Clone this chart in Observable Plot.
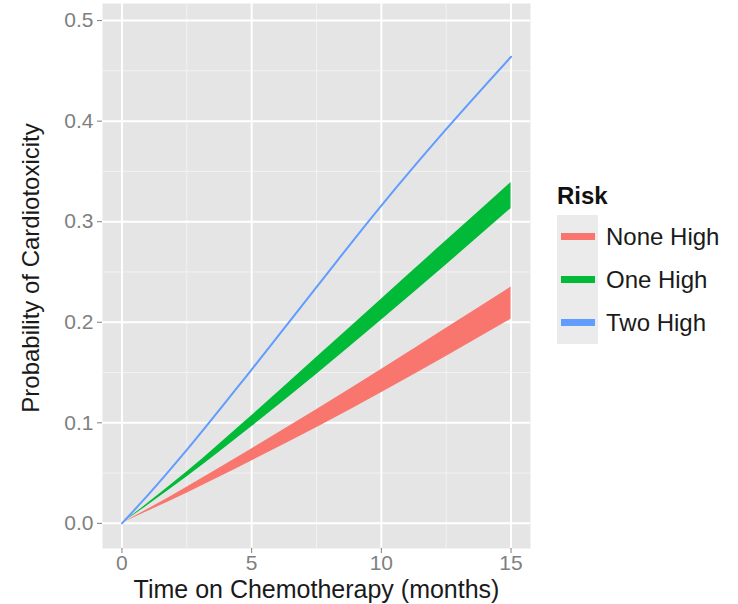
<!DOCTYPE html>
<html>
<head>
<meta charset="utf-8">
<script src="https://cdn.jsdelivr.net/npm/d3@7"></script>
<script src="https://cdn.jsdelivr.net/npm/@observablehq/plot@0.6"></script>
<style>
  body { margin: 0; background: #fff; font-family: "Liberation Sans", Arial, sans-serif; }
  #wrap { position: relative; width: 738px; height: 604px; }
  #legend { position: absolute; left: 557px; top: 182px; }
  #legend .title { font-weight: bold; font-size: 24px; color: #111; height: 33px; line-height: 28px; }
  #legend .row { display: flex; align-items: center; height: 43px; }
  #legend .key { width: 41px; height: 43px; background: #EBEBEB; display: flex; align-items: center; justify-content: center; }
  #legend .bar { width: 34px; height: 7px; }
  #legend .lab { font-size: 24px; color: #1a1a1a; margin-left: 8px; }
</style>
</head>
<body>
<div id="wrap"><div id="chart"></div><div id="legend"></div></div>
<script>
const months = [0, 1, 2.5, 5, 7.5, 10, 12.5, 15];
const twoHigh = [0, 0.028, 0.073, 0.153, 0.235, 0.316, 0.392, 0.464];
const oneHighLow = [0, 0.018, 0.046, 0.096, 0.148, 0.202, 0.257, 0.313];
const oneHighHigh = [0, 0.020, 0.051, 0.107, 0.165, 0.223, 0.281, 0.339];
const noneHighLow = [0, 0.012, 0.030, 0.062, 0.095, 0.130, 0.166, 0.203];
const noneHighHigh = [0, 0.014, 0.036, 0.074, 0.113, 0.153, 0.194, 0.235];
const riskLabels = ["None High", "One High", "Two High"];
const riskColors = ["#F8766D", "#00BA38", "#619CFF"];
const xTicks = [0, 5, 10, 15];
const xMinor = [2.5, 7.5, 12.5];
const yTicks = [0, 0.1, 0.2, 0.3, 0.4, 0.5];
const yMinor = [0.05, 0.15, 0.25, 0.35, 0.45];

const bandNone = months.map((m, i) => ({m, lo: noneHighLow[i], hi: noneHighHigh[i]}));
const bandOne = months.map((m, i) => ({m, lo: oneHighLow[i], hi: oneHighHigh[i]}));
const lineTwo = months.map((m, i) => ({m, v: twoHigh[i]}));

const chart = Plot.plot({
  width: 738,
  height: 604,
  marginLeft: 102,
  marginRight: 208,
  marginTop: 3,
  marginBottom: 56,
  style: { fontFamily: "Liberation Sans, Arial, sans-serif", background: "transparent" },
  x: { domain: [-0.75, 15.75] },
  y: { domain: [-0.025, 0.517] },
  marks: [
    Plot.frame({ fill: "#E5E5E5", stroke: null }),
    Plot.ruleX(xMinor, { stroke: "#F2F2F2", strokeWidth: 1 }),
    Plot.ruleY(yMinor, { stroke: "#F2F2F2", strokeWidth: 1 }),
    Plot.ruleX(xTicks, { stroke: "#FFFFFF", strokeWidth: 2 }),
    Plot.ruleY(yTicks, { stroke: "#FFFFFF", strokeWidth: 2 }),
    Plot.areaY(bandNone, { x: "m", y1: "lo", y2: "hi", fill: riskColors[0], curve: "monotone-x" }),
    Plot.areaY(bandOne, { x: "m", y1: "lo", y2: "hi", fill: riskColors[1], curve: "monotone-x" }),
    Plot.line(lineTwo, { x: "m", y: "v", stroke: riskColors[2], strokeWidth: 2, curve: "monotone-x" }),
    Plot.axisX(xTicks, { tickSize: 5, tickPadding: 2, fontSize: 21, fill: "#7F7F7F", stroke: "#7F7F7F", label: null }),
    Plot.axisY(yTicks, { tickSize: 5, tickPadding: 4, fontSize: 21, fill: "#7F7F7F", stroke: "#7F7F7F", label: null, tickFormat: d3.format(".1f") }),
    Plot.text(["Time on Chemotherapy (months)"], { frameAnchor: "bottom", lineAnchor: "middle", dy: 41, fontSize: 25, fill: "#1a1a1a", text: d => d }),
    Plot.text(["Probability of Cardiotoxicity"], { frameAnchor: "left", lineAnchor: "middle", textAnchor: "middle", dx: -71, dy: -8, rotate: -90, fontSize: 24, fill: "#1a1a1a", text: d => d })
  ]
});
document.getElementById("chart").appendChild(chart);

const legend = document.getElementById("legend");
const t = document.createElement("div");
t.className = "title";
t.textContent = "Risk";
legend.appendChild(t);
riskLabels.forEach((lab, i) => {
  const row = document.createElement("div");
  row.className = "row";
  row.innerHTML = `<div class="key"><div class="bar" style="background:${riskColors[i]}"></div></div><div class="lab">${lab}</div>`;
  legend.appendChild(row);
});
</script>
</body>
</html>
